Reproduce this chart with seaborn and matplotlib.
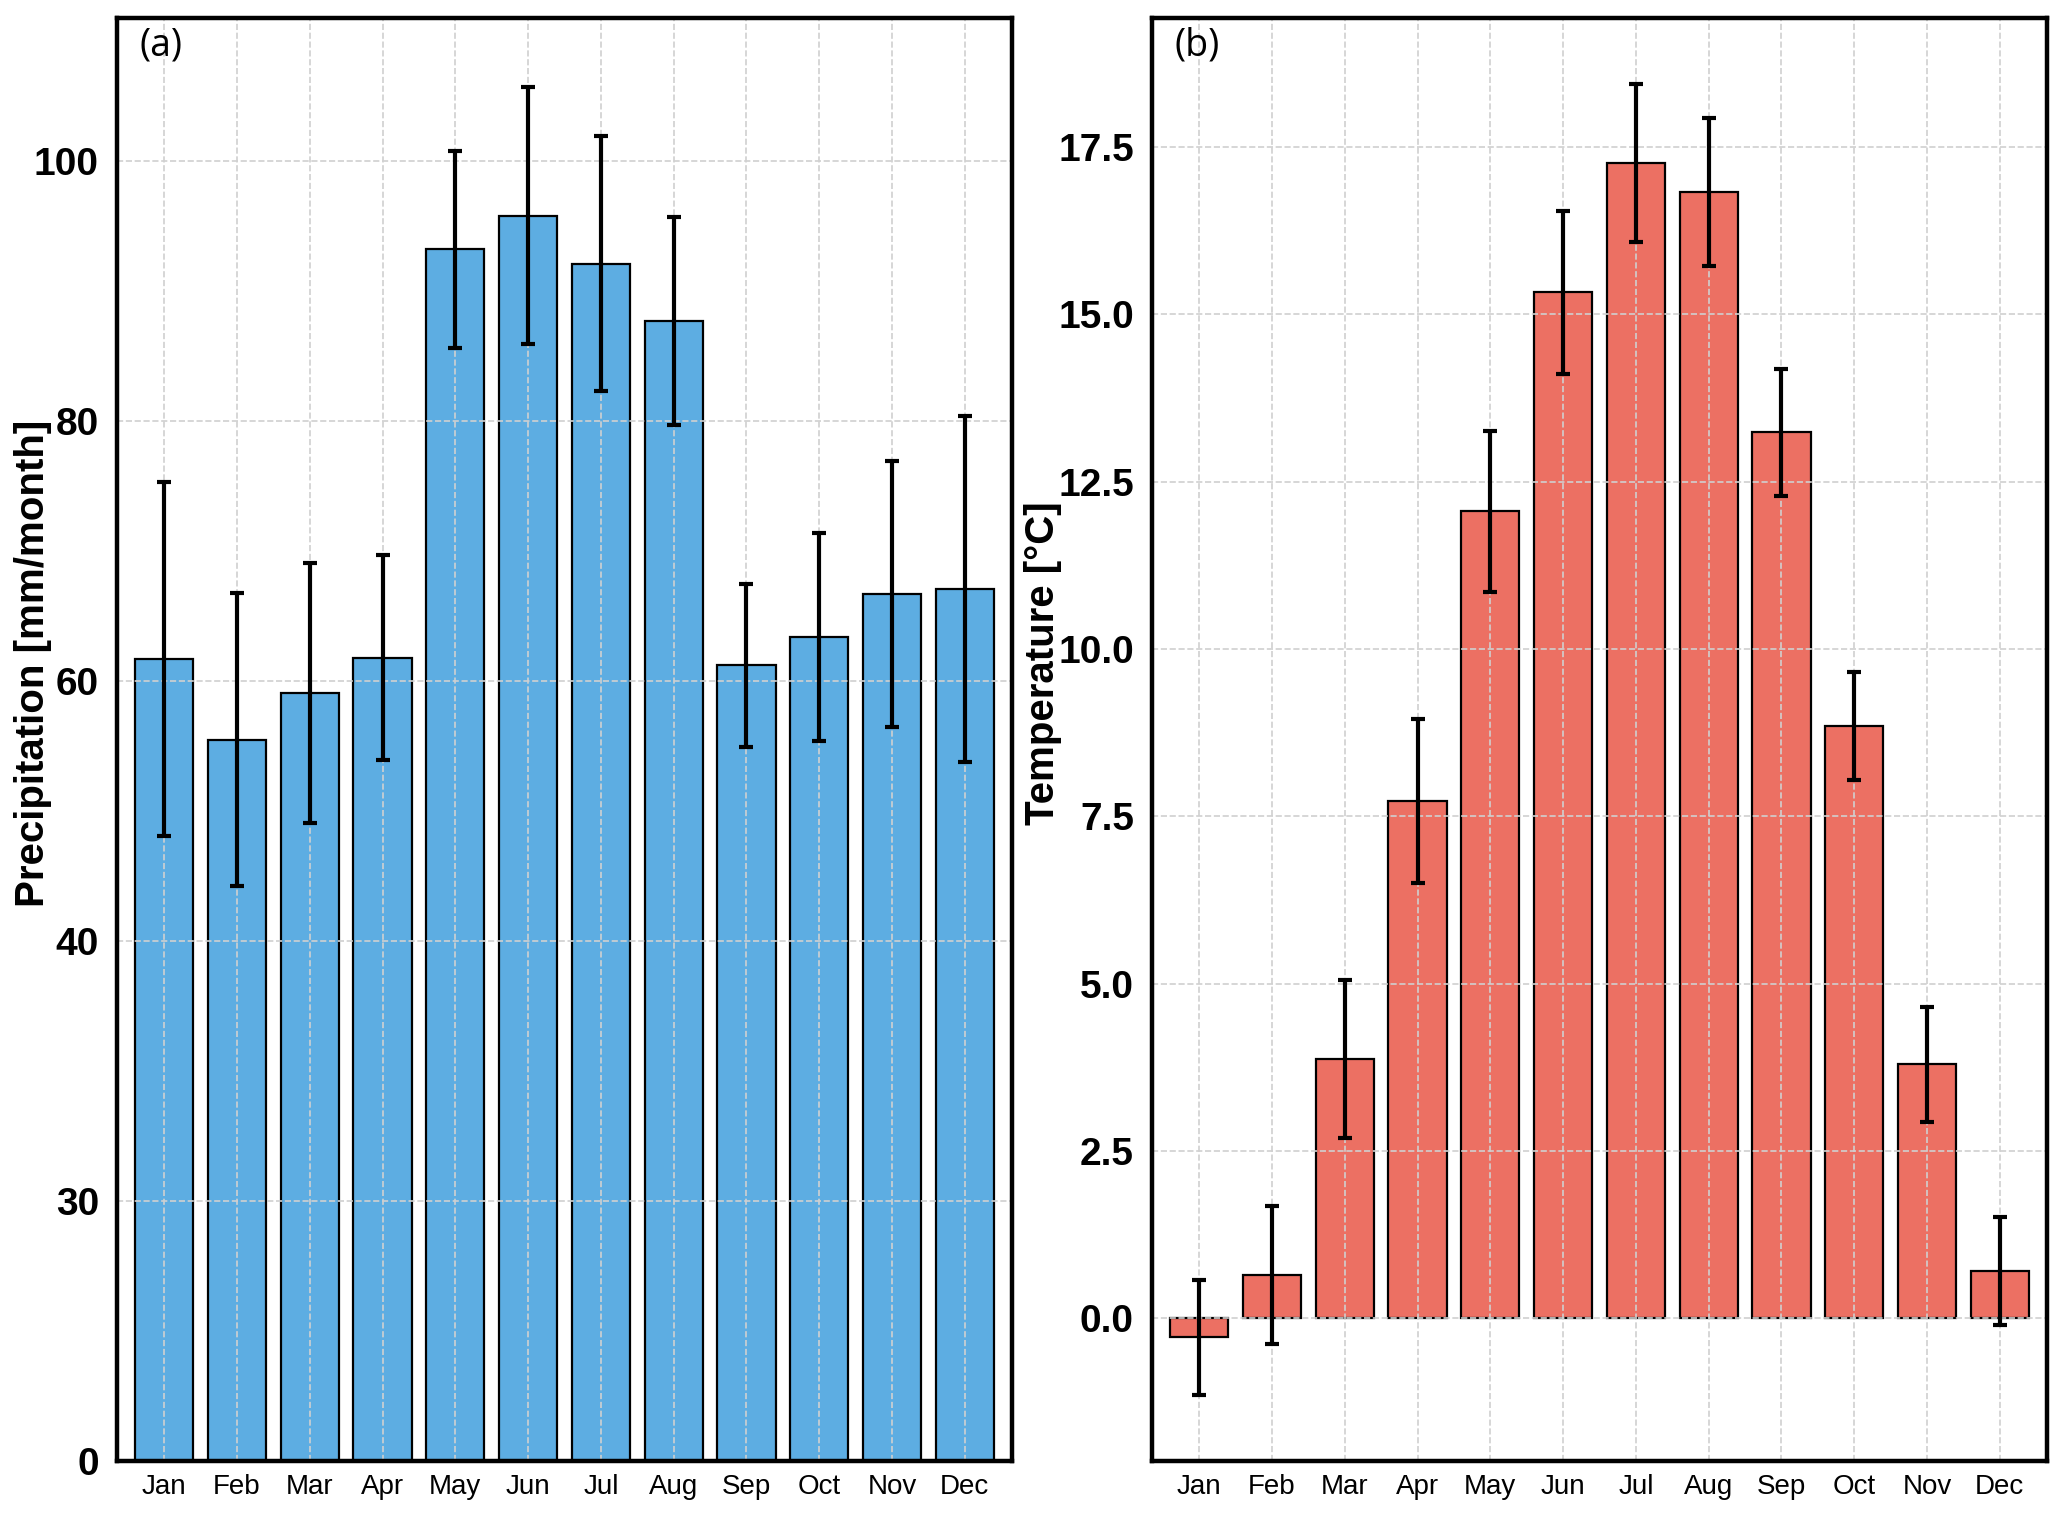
import matplotlib
matplotlib.use("Agg")
import matplotlib.pyplot as plt
import seaborn as sns
import numpy as np
import pandas as pd

months = ["Jan", "Feb", "Mar", "Apr", "May", "Jun", "Jul", "Aug", "Sep", "Oct", "Nov", "Dec"]
precip_mean = [61.7, 55.5, 59.1, 61.8, 93.2, 95.8, 92.1, 87.7, 61.2, 63.4, 66.7, 67.1]
precip_err = [13.6, 11.3, 10.0, 7.9, 7.6, 9.9, 9.8, 8.0, 6.3, 8.0, 10.2, 13.3]
temp_mean = [-0.28, 0.65, 3.88, 7.73, 12.06, 15.33, 17.26, 16.83, 13.24, 8.85, 3.80, 0.71]
temp_err = [0.86, 1.03, 1.18, 1.22, 1.20, 1.22, 1.18, 1.10, 0.95, 0.81, 0.86, 0.81]
precip_ticks = [0, 20, 40, 60, 80, 100]
precip_ticklabels = ["0", "30", "40", "60", "80", "100"]
temp_ticks = [0.0, 2.5, 5.0, 7.5, 10.0, 12.5, 15.0, 17.5]

sns.set_style("white")
plt.rcParams['font.family'] = ['Liberation Sans', 'DejaVu Sans']
for k in ["text.color", "axes.labelcolor", "xtick.color", "ytick.color"]:
    plt.rcParams[k] = "black"

fig = plt.figure(figsize=(2067/200, 1516/200), dpi=200)
ax1 = fig.add_axes([117/2067, 55/1516, 895/2067, 1443/1516])
ax2 = fig.add_axes([1152/2067, 55/1516, 895/2067, 1443/1516])

df_p = pd.DataFrame({"month": months, "val": precip_mean})
df_t = pd.DataFrame({"month": months, "val": temp_mean})

panels = [
    (ax1, df_p, precip_err, "#5DADE2", "Precipitation [mm/month]", "(a)", -0.073),
    (ax2, df_t, temp_err, "#EC7063", "Temperature [°C]", "(b)", -0.10),
]

for ax, df, err, col, ylab, tag, lx in panels:
    sns.barplot(data=df, x="month", y="val", color=col, saturation=1,
                edgecolor="black", linewidth=0.8, width=0.8, errorbar=None, ax=ax)
    ax.errorbar(np.arange(len(df)), df["val"], yerr=err, fmt="none",
                ecolor="black", elinewidth=1.5, capsize=2.5, capthick=1.5, zorder=4)
    ax.set_xlim(-0.65, 11.65)
    ax.grid(True, linestyle="--", color="#d0d0d0", linewidth=0.6)
    ax.set_axisbelow(False)
    for s in ax.spines.values():
        s.set_linewidth(1.6)
        s.set_color("black")
        s.set_visible(True)
        s.set_zorder(5)
    ax.set_xlabel("")
    ax.set_ylabel(ylab, fontsize=14.5, fontweight="bold")
    ax.yaxis.set_label_coords(lx, 0.553)
    ax.tick_params(axis="x", labelsize=10, length=2, width=0.6, pad=2.5)
    ax.tick_params(axis="y", labelsize=14, length=2, width=0.6, pad=4.5)
    ax.text(0.025, 0.994, tag, transform=ax.transAxes, ha="left", va="top",
            fontsize=13.5, family=["Open Sans", "DejaVu Sans"])

ax1.set_ylim(0, 111)
ax1.set_yticks(precip_ticks)
ax1.set_yticklabels(precip_ticklabels, fontsize=14, fontweight="bold")
ax2.set_ylim(-2.13, 19.43)
ax2.set_yticks(temp_ticks)
ax2.set_yticklabels([f"{t:.1f}" for t in temp_ticks], fontsize=14, fontweight="bold")

fig.savefig("out.png", dpi=200)
